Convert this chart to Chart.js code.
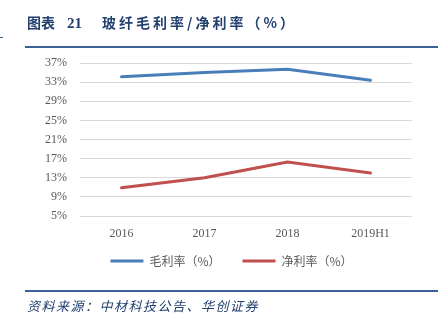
<!DOCTYPE html>
<html>
<head>
<meta charset="utf-8">
<script src="https://cdn.jsdelivr.net/npm/chart.js@4/dist/chart.umd.min.js"></script>
<style>
  html, body { margin: 0; padding: 0; background: #fff; }
  body { width: 446px; height: 325px; position: relative; overflow: hidden; }
  #wrap { position: absolute; left: 0; top: 0; width: 446px; height: 325px; }
  .title { position: absolute; left: 27px; top: 12px; color: #23406f; font-weight: bold; font-size: 14px; white-space: nowrap; font-family: "Noto Sans CJK SC", sans-serif; }
  .title .num { font-family: "Liberation Serif", serif; font-size: 15px; margin-left: 12px; }
  .title .main { margin-left: 20px; letter-spacing: 3px; }
  .rule { position: absolute; left: 25px; width: 413px; height: 2px; background: #3a6295; }
  .dash { position: absolute; left: 0; top: 37px; width: 3px; height: 1px; background: #3a6295; }
  .source { position: absolute; left: 27px; top: 296px; color: #23406f; font-size: 13px; font-style: italic; letter-spacing: 1.5px; white-space: nowrap; font-family: "Noto Sans CJK SC", sans-serif; }
</style>
</head>
<body>
<div id="wrap"><canvas id="chart" width="446" height="325"></canvas></div>
<div class="title">图表<span class="num">21</span><span class="main">玻纤毛利率/净利率（%）</span></div>
<div class="dash"></div>
<div class="rule" style="top:46px"></div>
<div class="rule" style="top:290px"></div>
<div class="source">资料来源：中材科技公告、华创证券</div>
<script>
const categories = ['2016', '2017', '2018', '2019H1'];
const grossMargin = [34.1, 35.0, 35.7, 33.4];
const netMargin = [10.9, 13.0, 16.3, 14.0];
const seriesNames = ['毛利率（%）', '净利率（%）'];
const yTicks = { min: 5, max: 37, step: 4 };

const tickFont = { family: '"Liberation Serif", "Times New Roman", serif', size: 12 };

// legend sits centred under the plot, a bit closer to the axis labels
const shiftLegend = {
    id: 'shiftLegend',
    afterLayout(chart) {
        if (chart.legend) {
            chart.legend.left += 51;
            chart.legend.top -= 13;
        }
    }
};

new Chart(document.getElementById('chart').getContext('2d'), {
    type: 'line',
    data: {
        labels: categories,
        datasets: [
            { label: seriesNames[0], data: grossMargin, borderColor: '#4a7ebb', backgroundColor: '#4a7ebb', borderWidth: 3, borderCapStyle: 'round', pointRadius: 0, tension: 0 },
            { label: seriesNames[1], data: netMargin, borderColor: '#c0504d', backgroundColor: '#c0504d', borderWidth: 3, borderCapStyle: 'round', pointRadius: 0, tension: 0 }
        ]
    },
    options: {
        responsive: false,
        animation: false,
        layout: { padding: { left: 0, right: 34, top: 63, bottom: 35 } },
        plugins: {
            tooltip: { enabled: false },
            legend: {
                position: 'bottom',
                labels: {
                    usePointStyle: true,
                    pointStyle: 'line',
                    pointStyleWidth: 33,
                    padding: 22,
                    color: '#595959',
                    font: { family: '"Noto Sans CJK SC", sans-serif', size: 12 }
                }
            }
        },
        scales: {
            x: {
                offset: true,
                grid: { display: false, drawTicks: false },
                border: { display: false },
                ticks: { color: '#595959', font: tickFont, padding: 11, maxRotation: 0 },
                afterFit: (s) => { s.height = 30; }
            },
            y: {
                min: yTicks.min,
                max: yTicks.max,
                grid: { color: '#d9d9d9', lineWidth: 1, drawTicks: false },
                border: { display: false },
                ticks: { stepSize: yTicks.step, color: '#595959', font: tickFont, padding: 13, callback: (v) => v + '%' },
                afterFit: (s) => { s.width = 80; }
            }
        }
    },
    plugins: [shiftLegend]
});
</script>
</body>
</html>
